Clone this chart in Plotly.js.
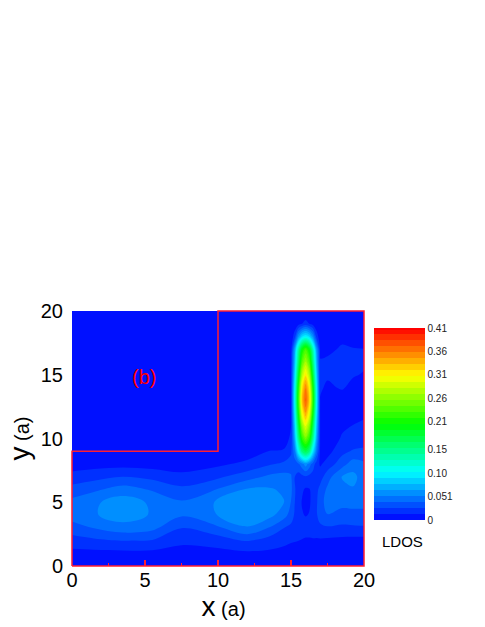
<!DOCTYPE html>
<html><head><meta charset="utf-8">
<script src="https://cdn.plot.ly/plotly-3.0.1.min.js"></script>
<style>html,body{margin:0;padding:0;background:#fff}</style></head>
<body><div id="chart" style="width:485px;height:627px"></div>
<script>
const xVals=[0,1.5,3.5,5.5,7.5,9.5,12,13.5,14.5,15,15.25,15.5,15.75,16,16.25,16.5,16.75,17,17.5,18.5,19.25,20];
const yVals=[0,1,2,3,4,5,6,7,8,9,10,11,12,13,14,15,16,17,18,19,20];
// LDOS in thousandths, one row per y
const ldosMilli=[
[4,4,4,4,4,4,5,5,5,5,5,5,5,5,5,5,5,5,5,5,5,5],
[9,9,9,9,9,9,10,10,9,8,7.5,7,7,7,7,7,7,7,7,6,6,6],
[20,23,26,25,15,17,27,20,16,14,13.5,13,12,11,11,11.5,11,11,10,9,8.5,8],
[33,39,46,42,26,33,50,38,26,22,21,21,20,19,19,19,20,22,24,23,23.5,24],
[44,50,58,50,40,49,62,56,44,33,24,18,14,12,13.5,17,24,33,38,33,34,35],
[42,49,58,49,40,50,63,58,52,38,26,20,12,7,11,17,24,33,44,43,43,42],
[31,36,44,37,29,36,53,53,49,42,27,20,15,11,12,16,22,30,41,48,50,46],
[17,21,26,22,16,21,33,41,43,40,26,20,22,24,22,20,20,20,33,52,55,45],
[7,7.5,8,7,7,9,16,24,28,32,32,36,46,58,46,32,20,11,18,33,45,41],
[3,3,3,3,3,3,6,13,14,23,47,103,154,175,154,95,47,11,8,22,27,28],
[1,1,1,1,1,1,2,5,7,15,68,148,220,250,220,145,68,12,6,14,17,20],
[.5,.5,.5,.5,.5,.5,.8,1.5,3,12.5,80,176,262,298,262,174,80,12,5,11,13,14.5],
[.5,.5,.5,.5,.5,.5,.5,.5,2,12,93,204,304,345,304,203,93,12,6,9,10,11],
[.5,.5,.5,.5,.5,.5,.5,.5,1.5,12,101,221,330,375,330,220,101,12.5,9,10.5,9.5,9],
[.5,.5,.5,.5,.5,.5,.5,.5,1.2,12,97,211,315,358,315,209,97,13.5,12,13.3,11.5,10],
[.5,.5,.5,.5,.5,.5,.5,.5,1,12,85,186,277,315,277,183,85,14,13.5,13.8,13.2,12.5],
[.5,.5,.5,.5,.5,.5,.5,.5,.8,11,73,159,238,270,238,157,73,13.5,13.5,13.7,13.6,13.5],
[.5,.5,.5,.5,.5,.5,.5,.5,.6,8,62,136,202,230,202,133,62,11,12,13.3,13.2,13],
[.5,.5,.5,.5,.5,.5,.5,.5,.5,2.5,20,59,88,100,88,58,20,4,6,12,10,8],
[.5,.5,.5,.5,.5,.5,.5,.5,.5,.8,3,8,12.5,18,12.5,8,3,1,1.5,3,3,3],
[.5,.5,.5,.5,.5,.5,.5,.5,.5,.5,.5,.5,.5,.5,.5,.5,.5,.5,.5,1,1,1]
];
const barTicks=[0,0.051,0.10,0.15,0.21,0.26,0.31,0.36,0.41];
const barLabels=['0','0.051','0.10','0.15','0.21','0.26','0.31','0.36','0.41'];
const frameX=[0,0,10,10,20,20,0];
const frameY=[0,9,9,20,20,0,0];
const xTicks=[0,5,10,15,20];
const yTicks=[0,5,10,15,20];
const red='#ff1e32';
const rainbow=[[0,'#0000ff'],[0.25,'#00ffff'],[0.5,'#00ff00'],[0.75,'#ffff00'],[1,'#ff0000']];
const tickFont={family:'Liberation Sans, Arial, sans-serif',size:20,color:'#000'};
const framePath=frameX.map((v,i)=>(i?'L':'M')+(v/20)+','+(frameY[i]/20)).join(' ');
const traces=[{
  type:'contour',x:xVals,y:yVals,z:ldosMilli.map(r=>r.map(v=>v/1000)),
  zmin:0,zmax:0.41,zauto:false,colorscale:rainbow,
  autocontour:false,contours:{start:0,end:0.41,size:0.0128125,coloring:'fill',showlines:false},
  line:{width:0,smoothing:1},hoverinfo:'skip',
  colorbar:{thickness:51,thicknessmode:'pixels',len:192,lenmode:'pixels',
    x:(374-72)/292,xanchor:'left',xpad:0,y:(566-328)/255,yanchor:'top',ypad:0,
    outlinewidth:0,ticks:'outside',ticklen:1,tickcolor:'rgba(0,0,0,0)',tickmode:'array',tickvals:barTicks,ticktext:barLabels,
    tickfont:{family:'Liberation Sans, Arial, sans-serif',size:10,color:'#222'}}
}];
const layout={
  width:485,height:627,autosize:false,paper_bgcolor:'#fff',plot_bgcolor:'#fff',showlegend:false,
  margin:{l:72,r:121,t:311,b:61,pad:0},
  xaxis:{range:[0,20],tickmode:'array',tickvals:xTicks,ticks:'inside',ticklen:6,tickwidth:1.2,tickcolor:red,
    minor:{ticks:'inside',ticklen:3,tickwidth:1,tickcolor:red,tickmode:'array',tickvals:[2.5,7.5,12.5,17.5],showgrid:false},
    showgrid:false,zeroline:false,showline:false,tickfont:tickFont,
    title:{text:'&nbsp;&nbsp;<span style="font-size:28px">x</span> (a)',font:tickFont,standoff:0}},
  yaxis:{range:[0,20],tickmode:'array',tickvals:yTicks,ticks:'',ticklabelstandoff:8,showgrid:false,zeroline:false,showline:false,tickfont:tickFont,
    title:{text:'<span style="font-size:28px">y</span> (a)',font:tickFont,standoff:5}},
  shapes:[{type:'path',xref:'paper',yref:'paper',path:framePath,line:{color:red,width:1.5},layer:'above'}],
  annotations:[
   {text:'(b)',x:4.9,y:14.8,xref:'x',yref:'y',showarrow:false,font:{family:'Liberation Sans, Arial, sans-serif',size:20,color:'#ff0000'}},
   {text:'LDOS',x:(402.5-72)/292,y:(566-541.5)/255,xref:'paper',yref:'paper',xanchor:'center',yanchor:'middle',showarrow:false,font:{family:'Liberation Sans, Arial, sans-serif',size:15,color:'#000'}}
  ]
};
Plotly.newPlot('chart',traces,layout,{displayModeBar:false,staticPlot:true});
</script></body></html>
